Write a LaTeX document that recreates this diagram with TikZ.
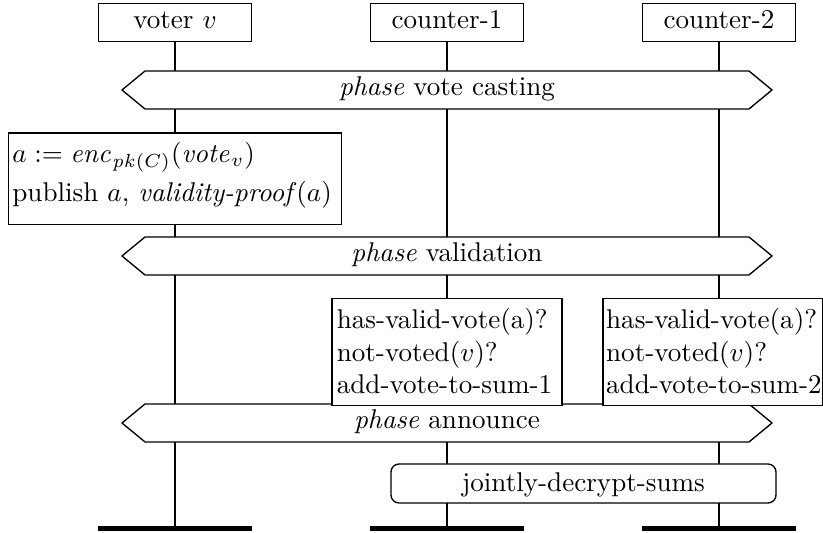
\documentclass[tikz,border=0pt]{standalone}
\usepackage{amsmath}
\usetikzlibrary{calc}

% A phase band across all lifelines: name, centre row, label
\newcommand\phaseband[3]{%
  \draw[band] (122,#2) -- (145,#2-19) -- (749,#2-19) -- (772,#2)
              -- (749,#2+19) -- (145,#2+19) -- cycle;
  \node[bandlabel] (#1) at (447,#2+5.5) {#3};%
}

\begin{document}
\begin{tikzpicture}[x=0.369pt, y=-0.369pt, line width=0.5pt,
  party/.style={draw, fill=white, minimum width=56.6pt, minimum height=14.2pt,
                inner sep=0pt, text height=6.3pt, text depth=2pt},
  band/.style={draw, fill=white, line join=miter},
  bandlabel/.style={anchor=base, inner sep=0pt},
  task/.style={draw, fill=white, align=left, inner ysep=3pt},
  joint/.style={draw, fill=white, rounded corners=3pt, minimum width=142.1pt,
                minimum height=14.4pt, inner sep=0pt, text height=8pt, text depth=2pt},
  endbar/.style={line width=1.85pt},
]
\useasboundingbox (0,0) rectangle (823,533);

% parties
\node[party] (voter) at (175,22.5) {voter $v$};
\node[party] (cnt1)  at (447,22.5) {counter-1};
\node[party] (cnt2)  at (719,22.5) {counter-2};

% lifelines
\coordinate (voterend) at (175,528.5);
\coordinate (cnt1end)  at (447,528.5);
\coordinate (cnt2end)  at (719,528.5);
\draw (voter.south) -- (voterend);
\draw (cnt1.south)  -- (cnt1end);
\draw (cnt2.south)  -- (cnt2end);

% vote casting
\phaseband{casting}{90}{\textit{phase} vote casting}
\node[task, anchor=north, text width=120pt, inner xsep=1.5pt] (cast) at (175,132.3)
  {\rule{0pt}{7.85pt}$a := \mathit{enc}_{\mathit{pk}(C)}(\mathit{vote}_v)$\\[2.5pt]
   publish $a$, \textit{validity-proof}$(a)$\rule[-5.4pt]{0pt}{5.4pt}};

% validation
\phaseband{validation}{256}{\textit{phase} validation}
\phaseband{announce}{423}{\textit{phase} announce}
\node[task, anchor=north, text width=81.3pt, inner xsep=1.8pt] (check1) at (447,298)
  {\rule{0pt}{8.07pt}has-valid-vote(a)?\\
   not-voted($v$)?\\
   add-vote-to-sum-1\rule[-1.43pt]{0pt}{1.43pt}};
\node[task, anchor=north west, text width=78.7pt, inner xsep=1.1pt] (check2) at (602.5,298)
  {\rule{0pt}{8.07pt}\mbox{has-valid-vote(a)?}\\
   \mbox{not-voted($v$)?}\\
   \mbox{add-vote-to-sum-2}\rule[-1.43pt]{0pt}{1.43pt}};

% announcing the result
\node[joint] (decrypt) at (583.5,483.5) {jointly-decrypt-sums};

% lifeline terminators
\draw[endbar] ($(voterend)+(-76.7,0)$) -- ($(voterend)+(76.7,0)$);
\draw[endbar] ($(cnt1end)+(-76.7,0)$)  -- ($(cnt1end)+(76.7,0)$);
\draw[endbar] ($(cnt2end)+(-76.7,0)$)  -- ($(cnt2end)+(76.7,0)$);
\end{tikzpicture}
\end{document}
